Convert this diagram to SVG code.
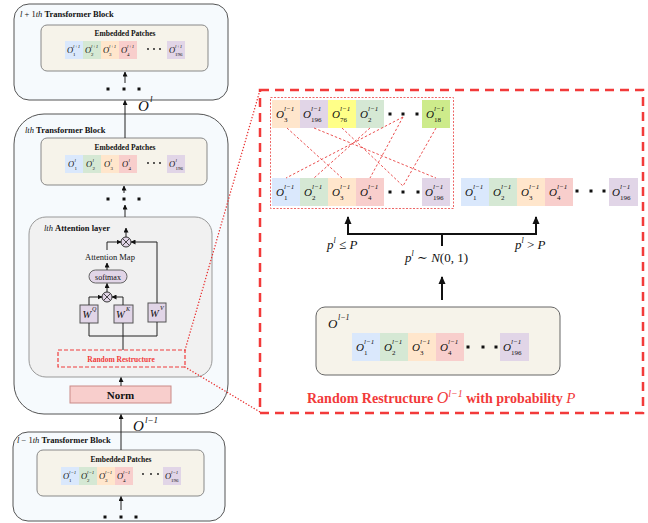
<svg xmlns="http://www.w3.org/2000/svg" width="648" height="523" viewBox="0 0 648 523">
<style>
text{font-family:"Liberation Serif","DejaVu Serif",serif;fill:#111}
.b{font-weight:bold}
.i{font-style:italic}
.blk{fill:#f6fafd;stroke:#555;stroke-width:1}
.emb{fill:#f6f3ea;stroke:#888;stroke-width:1}
.ln{fill:none;stroke:#222;stroke-width:1}
.tk{fill:none;stroke:#111;stroke-width:2}
.blue{fill:#dae8fc}.green{fill:#d5e8d4}.orange{fill:#ffe6cc}.red{fill:#f8cecc}.purple{fill:#e1d5e7}.yellow{fill:#ffff88}.lime{fill:#cdeb8b}
.so{font-size:8.5px;font-style:italic}
.ss{font-size:5px;font-style:italic}
.sn{font-size:5px}
.bo{font-size:11px;font-style:italic}
.bs{font-size:7px;font-style:italic}
.bn{font-size:7px}
.cross{fill:none;stroke:#e84040;stroke-width:0.9;stroke-dasharray:2.5,2}
.dot{fill:#111}
.w{fill:#e1d5e7;stroke:#555;stroke-width:1}
.rd{fill:#f23a3a}
</style>
<defs>
<marker id="ah" markerWidth="5" markerHeight="5" refX="4.5" refY="2.5" orient="auto" markerUnits="userSpaceOnUse"><path d="M0,0 L5,2.5 L0,5 z" fill="#111"/></marker>
<marker id="ahb" markerWidth="8" markerHeight="8" refX="7" refY="4" orient="auto" markerUnits="userSpaceOnUse"><path d="M0,0.5 L8,4 L0,7.5 z" fill="#111"/></marker>
</defs>

<g id="block-l1">
<rect class="blk" x="14" y="4" width="214" height="96" rx="15"/>
<text x="20" y="17" font-size="8.5"><tspan class="i">l</tspan> + 1<tspan class="i">th</tspan> <tspan class="b">Transformer Block</tspan></text>
<rect class="emb" x="41" y="25" width="167" height="46" rx="6"/>
<text class="b" x="125" y="36" font-size="7.5" text-anchor="middle">Embedded Patches</text>
<g transform="translate(65,41)"><rect class="blue" width="18" height="18"/><text class="so" x="2" y="12">O</text><text class="ss" x="8" y="6.5">l+1</text><text class="sn" x="8" y="15">1</text></g>
<g transform="translate(83,41)"><rect class="green" width="18" height="18"/><text class="so" x="2" y="12">O</text><text class="ss" x="8" y="6.5">l+1</text><text class="sn" x="8" y="15">2</text></g>
<g transform="translate(101,41)"><rect class="orange" width="18" height="18"/><text class="so" x="2" y="12">O</text><text class="ss" x="8" y="6.5">l+1</text><text class="sn" x="8" y="15">3</text></g>
<g transform="translate(119,41)"><rect class="red" width="18" height="18"/><text class="so" x="2" y="12">O</text><text class="ss" x="8" y="6.5">l+1</text><text class="sn" x="8" y="15">4</text></g>
<circle class="dot" cx="148" cy="49" r="0.9"/><circle class="dot" cx="154" cy="49" r="0.9"/><circle class="dot" cx="160" cy="49" r="0.9"/>
<g transform="translate(167,41)"><rect class="purple" width="18" height="18"/><text class="so" x="2" y="12">O</text><text class="ss" x="8" y="6.5">l+1</text><text class="sn" x="8" y="15">196</text></g>
<rect class="dot" x="106.5" y="87.5" width="3" height="3"/><rect class="dot" x="122.5" y="87.5" width="3" height="3"/><rect class="dot" x="137.5" y="87.5" width="3" height="3"/>
</g>

<g id="block-l">
<rect class="blk" x="14" y="114" width="214" height="300" rx="30"/>
<text x="25" y="133" font-size="8.5"><tspan class="i">lth</tspan> <tspan class="b">Transformer Block</tspan></text>
<rect class="emb" x="41" y="138" width="166" height="47" rx="6"/>
<text class="b" x="125" y="150" font-size="7.5" text-anchor="middle">Embedded Patches</text>
<g transform="translate(65,155)"><rect class="blue" width="18" height="18"/><text class="so" x="3" y="12">O</text><text class="ss" x="9.5" y="6.5">l</text><text class="sn" x="9.5" y="15">1</text></g>
<g transform="translate(83,155)"><rect class="green" width="18" height="18"/><text class="so" x="3" y="12">O</text><text class="ss" x="9.5" y="6.5">l</text><text class="sn" x="9.5" y="15">2</text></g>
<g transform="translate(101,155)"><rect class="orange" width="18" height="18"/><text class="so" x="3" y="12">O</text><text class="ss" x="9.5" y="6.5">l</text><text class="sn" x="9.5" y="15">3</text></g>
<g transform="translate(119,155)"><rect class="red" width="18" height="18"/><text class="so" x="3" y="12">O</text><text class="ss" x="9.5" y="6.5">l</text><text class="sn" x="9.5" y="15">4</text></g>
<circle class="dot" cx="148" cy="163" r="0.9"/><circle class="dot" cx="154" cy="163" r="0.9"/><circle class="dot" cx="160" cy="163" r="0.9"/>
<g transform="translate(167,155)"><rect class="purple" width="18" height="18"/><text class="so" x="2" y="12">O</text><text class="ss" x="8.5" y="6.5">l</text><text class="sn" x="8.5" y="15">196</text></g>
<rect class="dot" x="106.5" y="197.5" width="3" height="3"/><rect class="dot" x="122.5" y="197.5" width="3" height="3"/><rect class="dot" x="137.5" y="197.5" width="3" height="3"/>
</g>

<g id="attention">
<rect x="29" y="217" width="183" height="160" rx="17" fill="#f1f1f1" stroke="#999"/>
<text x="44" y="231" font-size="8.5"><tspan class="i">lth</tspan>  <tspan class="b">Attention layer</tspan></text>
<text x="110" y="260" font-size="8.5" text-anchor="middle">Attention Map</text>
</g>
<g id="mul-top"><circle cx="126" cy="242" r="5" fill="#e1d5e7" stroke="#333"/><path d="M122.5,238.5 L129.5,245.5 M129.5,238.5 L122.5,245.5" stroke="#333" stroke-width="0.9"/></g>
<g id="mul-qk"><circle cx="107" cy="297" r="5" fill="#e1d5e7" stroke="#333"/><path d="M103.5,293.5 L110.5,300.5 M110.5,293.5 L103.5,300.5" stroke="#333" stroke-width="0.9"/></g>
<g id="softmax"><rect x="89" y="270" width="38" height="13" rx="6.5" fill="#e1d5e7" stroke="#666"/><text x="108" y="279.5" font-size="8" text-anchor="middle">softmax</text></g>
<g id="wq"><rect class="w" x="80" y="305" width="18" height="18"/><text class="i" x="82.5" y="318" font-size="10.5">W</text><text class="i" x="92" y="311" font-size="6">Q</text></g>
<g id="wk"><rect class="w" x="114" y="305" width="19" height="18"/><text class="i" x="116" y="318" font-size="10.5">W</text><text class="i" x="126" y="311" font-size="6">K</text></g>
<g id="wv"><rect class="w" x="148" y="303" width="18" height="19"/><text class="i" x="150" y="317" font-size="10.5">W</text><text class="i" x="160" y="310" font-size="6">V</text></g>
<g id="random-restructure"><rect x="58" y="350" width="127" height="17" fill="none" stroke="#f03c3c" stroke-width="1.2" stroke-dasharray="4,2"/><text class="b rd" x="121" y="361.5" font-size="7.5" text-anchor="middle">Random Restructure</text></g>
<g id="norm"><rect x="70" y="386" width="101" height="17" fill="#f8cecc" stroke="#c98a88"/><text class="b" x="120.5" y="398.5" font-size="11" text-anchor="middle">Norm</text></g>

<g id="block-lm1">
<rect class="blk" x="13" y="432" width="212" height="89" rx="15"/>
<text x="17" y="443" font-size="8.5"><tspan class="i">l</tspan> − 1<tspan class="i">th</tspan> <tspan class="b">Transformer Block</tspan></text>
<rect class="emb" x="37" y="450" width="167" height="46" rx="6"/>
<text class="b" x="121" y="462" font-size="7.5" text-anchor="middle">Embedded Patches</text>
<g transform="translate(61,467)"><rect class="blue" width="18" height="18"/><text class="so" x="2" y="12">O</text><text class="ss" x="8" y="6.5">l−1</text><text class="sn" x="8" y="15">1</text></g>
<g transform="translate(79,467)"><rect class="green" width="18" height="18"/><text class="so" x="2" y="12">O</text><text class="ss" x="8" y="6.5">l−1</text><text class="sn" x="8" y="15">2</text></g>
<g transform="translate(97,467)"><rect class="orange" width="18" height="18"/><text class="so" x="2" y="12">O</text><text class="ss" x="8" y="6.5">l−1</text><text class="sn" x="8" y="15">3</text></g>
<g transform="translate(115,467)"><rect class="red" width="18" height="18"/><text class="so" x="2" y="12">O</text><text class="ss" x="8" y="6.5">l−1</text><text class="sn" x="8" y="15">4</text></g>
<circle class="dot" cx="143" cy="474" r="0.9"/><circle class="dot" cx="151" cy="474" r="0.9"/><circle class="dot" cx="158" cy="474" r="0.9"/>
<g transform="translate(163,467)"><rect class="purple" width="18" height="18"/><text class="so" x="2" y="12">O</text><text class="ss" x="8" y="6.5">l−1</text><text class="sn" x="8" y="15">196</text></g>
<rect class="dot" x="103.5" y="515.5" width="3" height="3"/><rect class="dot" x="119.5" y="515.5" width="3" height="3"/><rect class="dot" x="134.5" y="515.5" width="3" height="3"/>
</g>

<g id="restructure-panel">
<rect x="260" y="90" width="383" height="323" fill="none" stroke="#f23a3a" stroke-width="2.5" stroke-dasharray="9,6"/>
<rect x="270.5" y="97.5" width="183" height="111" fill="none" stroke="#e84040" stroke-width="0.8" stroke-dasharray="2,1.5"/>
<text class="b rd" x="307" y="403" font-size="14">Random Restructure <tspan class="i rd" font-weight="normal" font-size="16">O</tspan><tspan class="i rd" font-weight="normal" font-size="10" dy="-6.5">l−1</tspan><tspan class="rd" dy="6.5"> with probability </tspan><tspan class="i rd" font-weight="normal" font-size="15">P</tspan></text>
</g>

<g id="shuffled-row">
<g transform="translate(272,100)"><rect class="orange" width="28" height="28"/><text class="bo" x="4" y="18">O</text><text class="bs" x="12" y="11">l−1</text><text class="bn" x="12" y="22">3</text></g>
<g transform="translate(300,100)"><rect class="purple" width="28" height="28"/><text class="bo" x="3" y="18">O</text><text class="bs" x="11" y="11">l−1</text><text class="bn" x="11" y="22">196</text></g>
<g transform="translate(328,100)"><rect class="yellow" width="28" height="28"/><text class="bo" x="4" y="18">O</text><text class="bs" x="12" y="11">l−1</text><text class="bn" x="12" y="22">76</text></g>
<g transform="translate(356,100)"><rect class="green" width="28" height="28"/><text class="bo" x="4" y="18">O</text><text class="bs" x="12" y="11">l−1</text><text class="bn" x="12" y="22">2</text></g>
<rect class="dot" x="388.5" y="112.5" width="3" height="3"/><rect class="dot" x="401.5" y="112.5" width="3" height="3"/><rect class="dot" x="415.5" y="112.5" width="3" height="3"/>
<g transform="translate(422,100)"><rect class="lime" width="28" height="28"/><text class="bo" x="4" y="18">O</text><text class="bs" x="12" y="11">l−1</text><text class="bn" x="12" y="22">18</text></g>
</g>

<g id="original-row">
<g transform="translate(272,178)"><rect class="blue" width="28" height="28"/><text class="bo" x="4" y="18">O</text><text class="bs" x="12" y="11">l−1</text><text class="bn" x="12" y="22">1</text></g>
<g transform="translate(300,178)"><rect class="green" width="28" height="28"/><text class="bo" x="4" y="18">O</text><text class="bs" x="12" y="11">l−1</text><text class="bn" x="12" y="22">2</text></g>
<g transform="translate(328,178)"><rect class="orange" width="28" height="28"/><text class="bo" x="4" y="18">O</text><text class="bs" x="12" y="11">l−1</text><text class="bn" x="12" y="22">3</text></g>
<g transform="translate(356,178)"><rect class="red" width="28" height="28"/><text class="bo" x="4" y="18">O</text><text class="bs" x="12" y="11">l−1</text><text class="bn" x="12" y="22">4</text></g>
<rect class="dot" x="388.5" y="190.5" width="3" height="3"/><rect class="dot" x="401.5" y="190.5" width="3" height="3"/><rect class="dot" x="416.5" y="190.5" width="3" height="3"/>
<g transform="translate(422,178)"><rect class="purple" width="28" height="28"/><text class="bo" x="3" y="18">O</text><text class="bs" x="11" y="11">l−1</text><text class="bn" x="11" y="22">196</text></g>
</g>

<g id="unchanged-row">
<g transform="translate(461,178)"><rect class="blue" width="28" height="28"/><text class="bo" x="4" y="18">O</text><text class="bs" x="12" y="11">l−1</text><text class="bn" x="12" y="22">1</text></g>
<g transform="translate(489,178)"><rect class="green" width="28" height="28"/><text class="bo" x="4" y="18">O</text><text class="bs" x="12" y="11">l−1</text><text class="bn" x="12" y="22">2</text></g>
<g transform="translate(517,178)"><rect class="orange" width="28" height="28"/><text class="bo" x="4" y="18">O</text><text class="bs" x="12" y="11">l−1</text><text class="bn" x="12" y="22">3</text></g>
<g transform="translate(545,178)"><rect class="red" width="28" height="28"/><text class="bo" x="4" y="18">O</text><text class="bs" x="12" y="11">l−1</text><text class="bn" x="12" y="22">4</text></g>
<rect class="dot" x="575.5" y="189.5" width="3" height="3"/><rect class="dot" x="589.5" y="189.5" width="3" height="3"/><rect class="dot" x="602.5" y="189.5" width="3" height="3"/>
<g transform="translate(609,178)"><rect class="purple" width="29" height="28"/><text class="bo" x="3" y="18">O</text><text class="bs" x="11" y="11">l−1</text><text class="bn" x="11" y="22">196</text></g>
</g>

<g id="input-box">
<rect x="316" y="307" width="244" height="68" rx="9" fill="#f6f3ea" stroke="#666"/>
<text class="i" x="328" y="328" font-size="13">O</text><text class="i" x="338" y="320" font-size="8">l−1</text>
<g transform="translate(352,333)"><rect class="blue" width="28" height="28"/><text class="bo" x="4" y="18">O</text><text class="bs" x="12" y="11">l−1</text><text class="bn" x="12" y="22">1</text></g>
<g transform="translate(380,333)"><rect class="green" width="28" height="28"/><text class="bo" x="4" y="18">O</text><text class="bs" x="12" y="11">l−1</text><text class="bn" x="12" y="22">2</text></g>
<g transform="translate(408,333)"><rect class="orange" width="28" height="28"/><text class="bo" x="4" y="18">O</text><text class="bs" x="12" y="11">l−1</text><text class="bn" x="12" y="22">3</text></g>
<g transform="translate(436,333)"><rect class="red" width="28" height="28"/><text class="bo" x="4" y="18">O</text><text class="bs" x="12" y="11">l−1</text><text class="bn" x="12" y="22">4</text></g>
<rect class="dot" x="466.5" y="345.5" width="3" height="3"/><rect class="dot" x="481.5" y="345.5" width="3" height="3"/><rect class="dot" x="494.5" y="345.5" width="3" height="3"/>
<g transform="translate(500,333)"><rect class="purple" width="29" height="28"/><text class="bo" x="3" y="18">O</text><text class="bs" x="11" y="11">l−1</text><text class="bn" x="11" y="22">196</text></g>
</g>

<g id="labels">
<text class="i" x="138" y="111" font-size="15">O</text><text class="i" x="150" y="102" font-size="9">l</text>
<text class="i" x="133" y="431" font-size="15">O</text><text class="i" x="145" y="423" font-size="9">l−1</text>
<text x="327" y="249" font-size="13"><tspan class="i">p</tspan><tspan class="i" font-size="8" dy="-6">l</tspan><tspan dy="6"> ≤ </tspan><tspan class="i">P</tspan></text>
<text x="515" y="249" font-size="13"><tspan class="i">p</tspan><tspan class="i" font-size="8" dy="-6">l</tspan><tspan dy="6"> &gt; </tspan><tspan class="i">P</tspan></text>
<text x="405" y="262" font-size="13"><tspan class="i">p</tspan><tspan class="i" font-size="8" dy="-6">l</tspan><tspan dy="6"> ∼ </tspan><tspan class="i">N</tspan>(0, 1)</text>
</g>

<g id="connectors">
<line class="ln" x1="125" y1="138" x2="125" y2="100.5" marker-end="url(#ah)"/>
<line class="ln" x1="125" y1="83" x2="125" y2="72" marker-end="url(#ah)"/>
<line class="ln" x1="124" y1="193" x2="124" y2="186" marker-end="url(#ah)"/>
<line class="ln" x1="125" y1="217" x2="125" y2="205" marker-end="url(#ah)"/>
<line class="ln" x1="126" y1="237" x2="126" y2="228" marker-end="url(#ah)"/>
<polyline class="ln" points="107,250 107,242 121,242" marker-end="url(#ah)"/>
<polyline class="ln" points="157,303 157,242 131,242" marker-end="url(#ah)"/>
<line class="ln" x1="107" y1="270" x2="107" y2="263" marker-end="url(#ah)"/>
<line class="ln" x1="107" y1="292" x2="107" y2="283.5" marker-end="url(#ah)"/>
<polyline class="ln" points="89,305 89,297 102,297" marker-end="url(#ah)"/>
<polyline class="ln" points="123,305 123,297 112,297" marker-end="url(#ah)"/>
<polyline class="ln" points="89,323 89,336 157,336 157,322"/>
<line class="ln" x1="123" y1="323" x2="123" y2="350"/>
<line class="ln" x1="121" y1="386" x2="121" y2="377.5" marker-end="url(#ah)"/>
<line class="ln" x1="121" y1="450" x2="121" y2="414.5" marker-end="url(#ah)"/>
<line class="ln" x1="121" y1="510" x2="121" y2="496.5" marker-end="url(#ah)"/>
<line x1="185" y1="350" x2="260" y2="90" stroke="#e83030" stroke-width="1.4" stroke-dasharray="0.1,3" stroke-linecap="round"/>
<line x1="185" y1="367" x2="260" y2="412" stroke="#e83030" stroke-width="1.4" stroke-dasharray="0.1,3" stroke-linecap="round"/>
<line class="cross" x1="287" y1="128" x2="342" y2="178"/>
<line class="cross" x1="314" y1="128" x2="436" y2="178"/>
<line class="cross" x1="342" y1="128" x2="403" y2="186"/>
<line class="cross" x1="370" y1="128" x2="314" y2="178"/>
<line class="cross" x1="403" y1="117" x2="286" y2="178"/>
<line class="cross" x1="403" y1="117" x2="370" y2="178"/>
<line class="cross" x1="436" y1="128" x2="403" y2="186"/>
<polyline class="tk" points="348,220 348,234 536,234 536,220"/>
<line class="tk" x1="348" y1="226" x2="348" y2="217" marker-end="url(#ahb)"/>
<line class="tk" x1="536" y1="226" x2="536" y2="217" marker-end="url(#ahb)"/>
<line class="tk" x1="442" y1="234" x2="442" y2="246"/>
<line class="tk" x1="442" y1="300" x2="442" y2="277" marker-end="url(#ahb)"/>
</g>
</svg>
